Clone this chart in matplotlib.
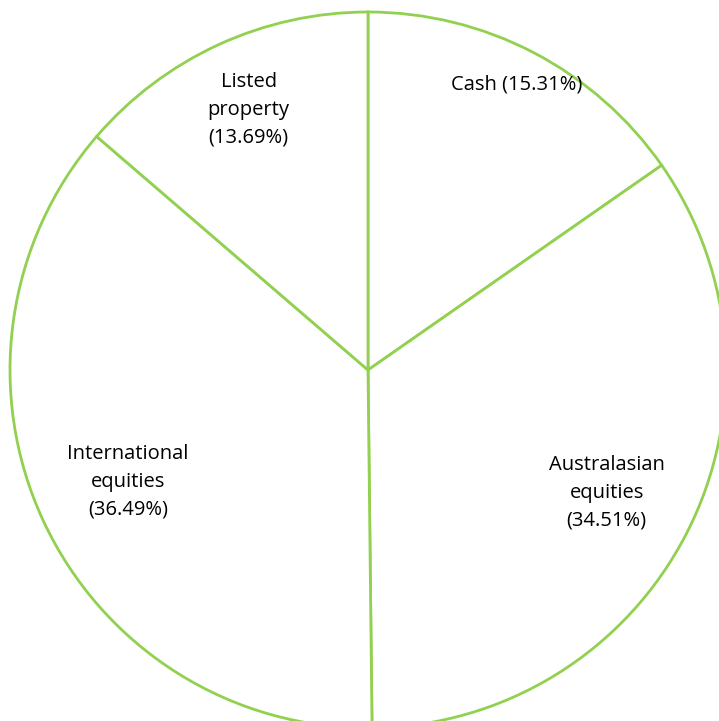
import numpy as np
import matplotlib
matplotlib.use("Agg")
import matplotlib.pyplot as plt

# portfolio split, clockwise from 12 o'clock
labels = ["Cash", "Australasian\nequities", "International\nequities", "Listed\nproperty"]
shares = [15.31, 34.51, 36.49, 13.69]
label_r = [0.90, 0.75, 0.74, 0.80]  # how far out each label sits (fraction of radius)

W, H = 719, 721
cx, cy, R = 368, 370, 358  # pixel centre / radius of the pie

fig = plt.figure(figsize=(W / 100, H / 100), dpi=100)
ax = fig.add_axes([0, 0, 1, 1])
ax.axis("off")

ax.pie(shares, startangle=90, counterclock=False, radius=1,
       colors=["white"] * len(shares),
       wedgeprops=dict(edgecolor="#92D050", linewidth=2))
ax.set_aspect("auto")
ax.set_xlim(-cx / R, (W - cx) / R)
ax.set_ylim(-(H - cy) / R, cy / R)

total = sum(shares)
start = 90.0
for lab, val, r in zip(labels, shares, label_r):
    sweep = val / total * 360
    mid = np.deg2rad(start - sweep / 2)
    start -= sweep
    txt = f"{lab} ({val:.2f}%)" if "\n" not in lab else f"{lab}\n({val:.2f}%)"
    ax.text(r * np.cos(mid), r * np.sin(mid), txt, ha="center", va="center",
            fontsize=14.5, family=["Open Sans", "DejaVu Sans"], color="black",
            linespacing=1.5)

fig.savefig("out.png", dpi=100)
